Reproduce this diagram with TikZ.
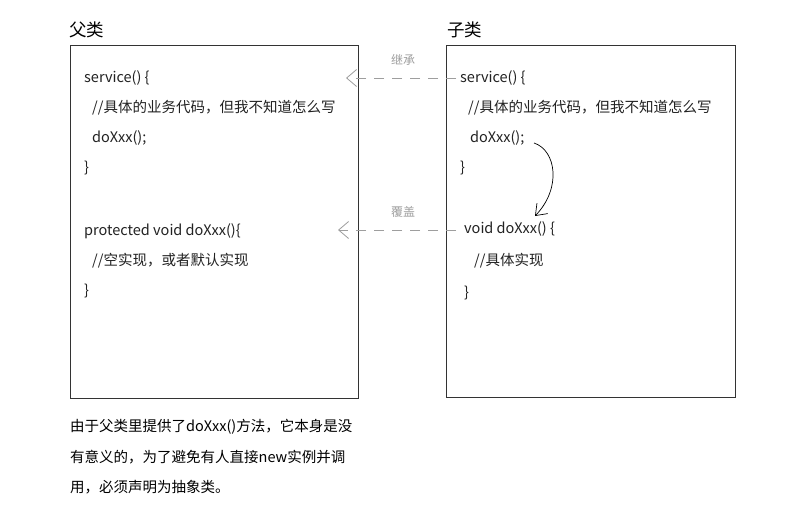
\documentclass[tikz,border=0pt]{standalone}
\usepackage{fontspec}
\setmainfont{Noto Sans CJK SC}
\usetikzlibrary{arrows.meta}
\definecolor{boxline}{HTML}{333333}
\definecolor{dashgray}{HTML}{9E9E9E}
\definecolor{codetxt}{HTML}{222222}
\tikzset{
  classbox/.style={draw=boxline, line width=0.9pt},
  code/.style={anchor=west, inner sep=0pt, text=codetxt, font=\fontsize{14.5}{17}\selectfont},
  title/.style={anchor=west, inner sep=0pt, text=black, font=\fontsize{17.5}{20}\selectfont},
  lbl/.style={inner sep=0pt, text=dashgray, font=\fontsize{12}{14}\selectfont},
  inherit/.style={draw=dashgray, line width=0.8pt, dash pattern=on 10pt off 8pt,
    -{Straight Barb[length=10pt,width=17pt,line width=0.8pt]}},
  callarrow/.style={draw=black, line width=0.7pt, -{Straight Barb[length=10pt,width=15pt]}},
  note/.style={anchor=west, inner sep=0pt, text=black, font=\fontsize{14.5}{17}\selectfont}
}
\begin{document}
\begin{tikzpicture}[x=1pt,y=-1pt]
\useasboundingbox[fill=white] (0,0) rectangle (789,515);
% titles
\node[title] (tparent) at (69,30) {父类};
\node[title] (tchild) at (447,30) {子类};
% boxes
\draw[classbox] (70,45) rectangle (358,398);
\draw[classbox] (446,45) rectangle (735,397);
% parent code
\node[code] (p1) at (84,78) {service() \{};
\node[code] (p2) at (92,108) {//具体的业务代码，但我不知道怎么写};
\node[code] (p3) at (92,138) {doXxx();};
\node[code] (p4) at (84,168) {\}};
\node[code] (p5) at (84,231) {protected void doXxx()\{};
\node[code] (p6) at (92,261) {//空实现，或者默认实现};
\node[code] (p7) at (84,291) {\}};
% child code
\node[code] (c1) at (460,78) {service() \{};
\node[code] (c2) at (468,108) {//具体的业务代码，但我不知道怎么写};
\node[code] (c3) at (470,138) {doXxx();};
\node[code] (c4) at (460,168) {\}};
\node[code] (c5) at (464,229) {void doXxx() \{};
\node[code] (c6) at (474,261) {//具体实现};
\node[code] (c7) at (464,293) {\}};
% dashed arrows
\coordinate (a1s) at (456,78);
\coordinate (a1e) at (346,78);
\draw[inherit] (a1s) -- (a1e);
\node[lbl] (l1) at (403,60) {继承};
\coordinate (a2s) at (456,230);
\coordinate (a2e) at (338,230);
\draw[inherit] (a2s) -- (a2e);
\node[lbl] (l2) at (403,212) {覆盖};
% call arrow
\coordinate (cs) at (534,143);
\coordinate (ce) at (535,216);
\draw[callarrow] (cs) .. controls (556,150) and (562,188) .. (ce);
% note
\node[note] (n1) at (70,427) {由于父类里提供了doXxx()方法，它本身是没};
\node[note] (n2) at (70,457) {有意义的，为了避免有人直接new实例并调};
\node[note] (n3) at (70,487) {用，必须声明为抽象类。};
\end{tikzpicture}
\end{document}
